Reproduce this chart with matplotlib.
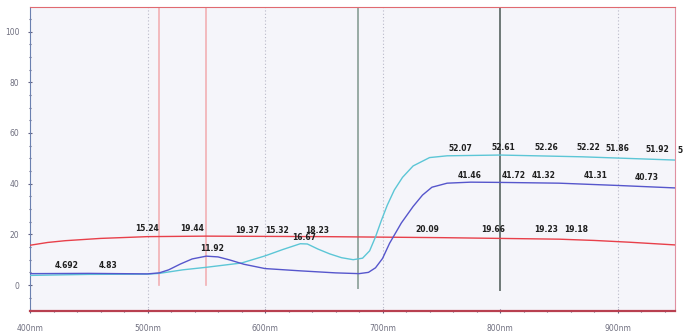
import numpy as np
import matplotlib
matplotlib.use("Agg")
import matplotlib.pyplot as plt
from matplotlib.ticker import MultipleLocator

# spectra (wavelength nm, value)
red_nm = [400, 415, 430, 460, 500, 550, 600, 650, 700, 750, 800, 850, 880, 910, 950]
red_val = [15.7, 16.8, 17.5, 18.4, 19.1, 19.3, 19.2, 19.1, 18.9, 18.7, 18.4, 18.1, 17.6, 16.9, 15.8]

blue_nm = [400, 450, 500, 510, 518, 528, 538, 550, 560, 570, 582, 600, 630, 660, 680, 688, 694,
           700, 706, 716, 726, 734, 742, 755, 775, 800, 850, 900, 950]
blue_val = [4.5, 4.6, 4.4, 4.8, 6.0, 8.3, 10.3, 11.4, 11.1, 9.9, 8.2, 6.5, 5.6, 4.8, 4.5, 5.0, 6.8,
            10.5, 16.5, 24.5, 31.0, 35.5, 38.6, 40.2, 40.6, 40.5, 40.2, 39.3, 38.3]

cyan_nm = [400, 450, 500, 510, 530, 550, 580, 600, 615, 630, 636, 645, 655, 665, 675, 683, 689,
           694, 699, 704, 710, 717, 726, 740, 755, 800, 870, 950]
cyan_val = [3.8, 4.2, 4.3, 4.6, 6.0, 7.0, 8.7, 11.5, 14.0, 16.3, 16.2, 14.2, 12.3, 10.8, 10.0, 10.6, 13.5,
            19.0, 25.5, 31.5, 37.5, 42.5, 47.0, 50.3, 51.0, 51.3, 50.6, 49.3]

# marker lines
pink_marks = [510, 550]
green_mark = 679
dark_mark = 800
grid_nm = [500, 600, 700, 900]

# value labels (text, nm, y)
labels = [
    ("4.692", 431, 7.9), ("4.83", 466, 7.9),
    ("15.24", 500, 22.5), ("19.44", 538, 22.5), ("11.92", 555, 14.6),
    ("19.37", 585, 21.7), ("15.32", 610, 21.7), ("16.67", 633, 18.9), ("18.23", 644, 21.7),
    ("20.09", 738, 22.1), ("19.66", 794, 22.1), ("19.23", 839, 22.1), ("19.18", 865, 22.1),
    ("52.07", 766, 54.0), ("52.61", 803, 54.4), ("52.26", 839, 54.4), ("52.22", 875, 54.4),
    ("51.86", 900, 54.0), ("51.92", 934, 53.6), ("5", 953, 52.9),
    ("41.46", 774, 43.4), ("41.72", 812, 43.4), ("41.32", 837, 43.4),
    ("41.31", 881, 43.4), ("40.73", 925, 42.6),
]

xticks = [400, 500, 600, 700, 800, 900]
xtick_labels = ["400nm", "500nm", "600nm", "700nm", "800nm", "900nm"]
yticks = [0, 20, 40, 60, 80, 100]

fig = plt.figure(figsize=(6.9, 3.36), dpi=100)
ax = fig.add_axes([0.0435, 0.074, 0.935, 0.905])
ax.set_facecolor("#f5f5fa")

for x in grid_nm:
    ax.axvline(x, color="#b8b8c8", lw=0.8, ls=(0, (1, 2)), zorder=1)
for x in pink_marks:
    ax.axvline(x, ymin=10.3 / 120, ymax=1, color="#f2b0b4", lw=1.2, zorder=1)
ax.axvline(green_mark, ymin=9 / 120, ymax=1, color="#98aaa4", lw=1.4, zorder=1)
ax.axvline(dark_mark, ymin=8.3 / 120, ymax=1, color="#6e7876", lw=1.4, zorder=1)

ax.plot(red_nm, red_val, color="#e8404a", lw=1.0, zorder=3)
ax.plot(cyan_nm, cyan_val, color="#5cc6d6", lw=1.0, zorder=3)
ax.plot(blue_nm, blue_val, color="#5656cc", lw=1.0, zorder=4)

for txt, x, y in labels:
    ax.text(x, y, txt, fontsize=5.5, fontweight="bold", color="#202020",
            ha="center", va="center", clip_on=False, zorder=5)

ax.set_xlim(400, 949)
ax.set_ylim(-10.3, 109.7)
ax.set_xticks(xticks)
ax.set_xticklabels(xtick_labels)
ax.set_yticks(yticks)
ax.xaxis.set_minor_locator(MultipleLocator(20))
ax.yaxis.set_minor_locator(MultipleLocator(5))
ax.tick_params(axis="both", which="major", direction="inout", length=3, width=0.8,
               colors="#606080", labelsize=5.5, labelcolor="#707080")
ax.tick_params(axis="both", which="minor", direction="inout", length=2, width=0.8, colors="#606080")
ax.tick_params(axis="x", pad=8)
ax.tick_params(axis="y", pad=6)

ax.spines["top"].set_color("#e06a70")
ax.spines["bottom"].set_color("#b84050")
ax.spines["bottom"].set_linewidth(1.6)
ax.spines["left"].set_color("#6a80b0")
ax.spines["right"].set_color("#e090a0")

fig.savefig("out.png", dpi=100)
